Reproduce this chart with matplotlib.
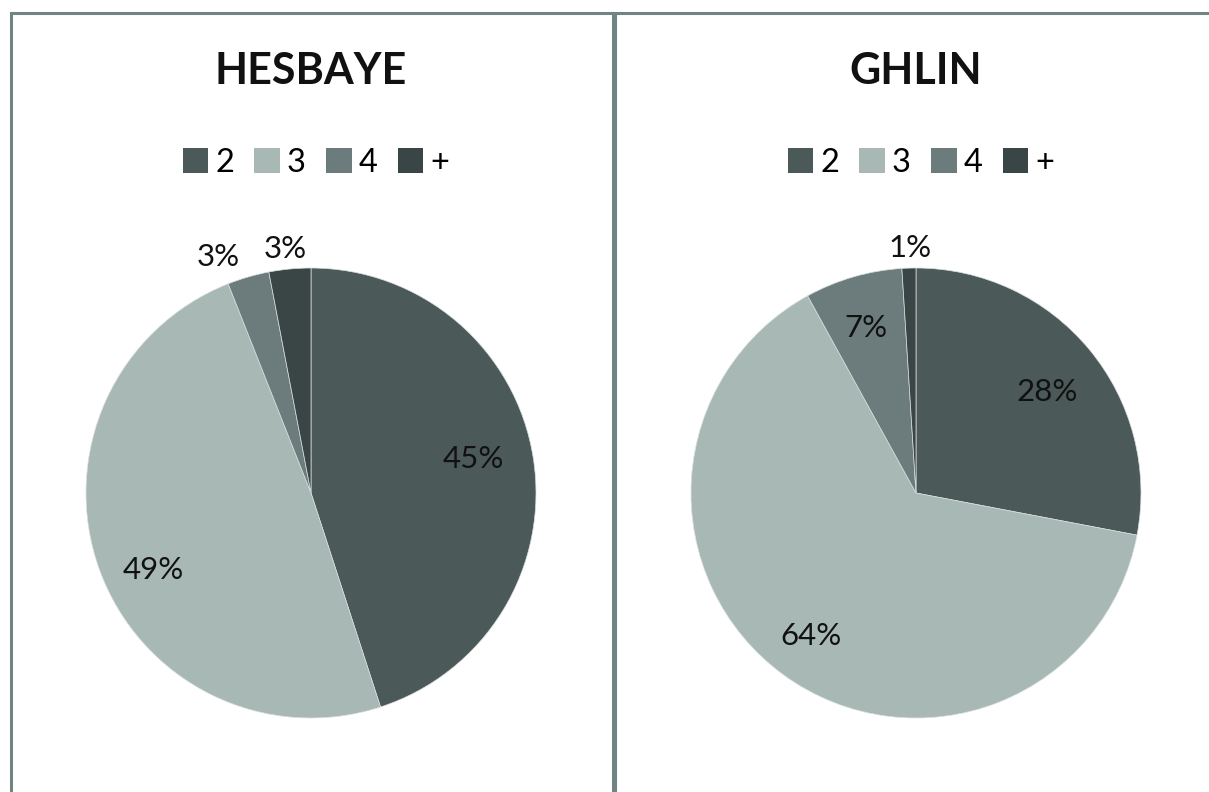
import matplotlib.pyplot as plt
import numpy as np
from matplotlib.patches import Rectangle

# data
categories = ['2', '3', '4', '+']
hesbaye = [45, 49, 3, 3]
ghlin = [28, 64, 7, 1]
titles = ['HESBAYE', 'GHLIN']
colors = ['#4b5a59', '#a8b8b5', '#6c7c7c', '#3a4646']

W, H, DPI = 1209, 792, 100
plt.rcParams['font.family'] = ['Lato', 'DejaVu Sans']

fig = plt.figure(figsize=(W / DPI, H / DPI), dpi=DPI)
fig.patch.set_facecolor('white')

def px(x, y):
    return x / W, 1 - y / H

# panel borders
border = '#6f8483'
for x0, x1 in [(11, 613), (615, 1230)]:
    fig.add_artist(Rectangle(px(x0, 830), (x1 - x0) / W, (830 - 13) / H,
                             transform=fig.transFigure, fill=False,
                             edgecolor=border, linewidth=2.2))

# label placement: radius, and small nudge (px) for each label
label_r = [[0.73, 0.78, 1.03, 1.03], [0.74, 0.78, 0.76, 1.08]]
nudges = [[(0, -8), (7, 18), (-28, -13), (-4, -13)],
          [(3, 5), (-2, 1), (-2, -1), (2, -2)]]

R = 225  # pie radius in px
L = 1.25
S = 2 * L * R
for i, (vals, title, cx) in enumerate(zip([hesbaye, ghlin], titles, [311, 916])):
    cy = 493
    left, bottom = px(cx - S / 2, cy + S / 2)
    ax = fig.add_axes([left, bottom, S / W, S / H])
    wedges, _ = ax.pie(vals, colors=colors, startangle=90, counterclock=False,
                       wedgeprops=dict(edgecolor='#d9e0df', linewidth=0.5))
    ax.set_xlim(-L, L)
    ax.set_ylim(-L, L)
    ax.set_aspect('equal')
    ax.axis('off')
    for w, v, r, (dx, dy) in zip(wedges, vals, label_r[i], nudges[i]):
        ang = np.deg2rad((w.theta1 + w.theta2) / 2)
        x, y = r * np.cos(ang) + dx / R, r * np.sin(ang) - dy / R
        ax.text(x, y, f'{v}%', ha='center', va='center', fontsize=22.5, color='#111111')

    fig.text(cx / W, 1 - 71 / H, title, ha='center', va='center',
             fontsize=31, fontweight='bold', color='#111111')
    handles = [Rectangle((0, 0), 1, 1, facecolor=c) for c in colors]
    fig.legend(handles, categories, loc='center', bbox_to_anchor=px(cx + 5, 163),
               ncol=4, frameon=False, fontsize=23.5, handlelength=0.78,
               handleheight=0.78, handletextpad=0.22, columnspacing=0.62)

fig.savefig('out.png', dpi=DPI, facecolor='white')
